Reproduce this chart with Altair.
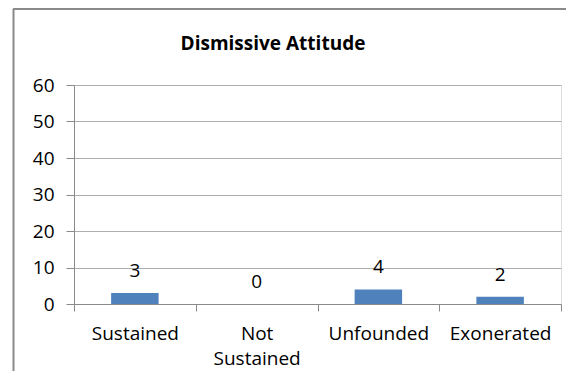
import altair as alt
import pandas as pd

categories = ["Sustained", "Not Sustained", "Unfounded", "Exonerated"]
counts = [3, 0, 4, 2]
y_ticks = [0, 10, 20, 30, 40, 50, 60]
title_text = "Dismissive Attitude"

df = pd.DataFrame({"category": categories, "count": counts})

FONT = "Open Sans"
BORDER = "#8a8a8a"

x_enc = alt.X(
    "category:N",
    sort=categories,
    scale=alt.Scale(paddingInner=0, paddingOuter=0),
    axis=alt.Axis(
        title=None,
        labelAngle=0,
        labelFont=FONT,
        labelFontSize=19,
        labelColor="#000000",
        labelPadding=13,
        labelLineHeight=25,
        labelExpr="datum.value == 'Not Sustained' ? ['Not', 'Sustained'] : datum.value",
        tickBand="extent",
        tickSize=7,
        tickColor=BORDER,
        domainColor=BORDER,
        grid=False,
    ),
)

y_enc = alt.Y(
    "count:Q",
    scale=alt.Scale(domain=[0, 60], nice=False),
    axis=alt.Axis(
        title=None,
        values=y_ticks,
        labelOverlap=False,
        labelFont=FONT,
        labelFontSize=19,
        labelColor="#000000",
        labelPadding=12,
        tickSize=8,
        tickColor=BORDER,
        domainColor=BORDER,
        gridColor="#aeaeae",
        grid=True,
    ),
)

bars = alt.Chart(df).mark_bar(color="#4F81BD", width=alt.RelativeBandSize(0.39)).encode(
    x=x_enc, y=y_enc
)

labels = alt.Chart(df).mark_text(
    font=FONT, fontSize=19, color="#000000", baseline="alphabetic", dy=-16
).encode(x=x_enc, y=y_enc, text="count:Q")

frame_top = alt.Chart(alt.Data(values=[{}])).mark_rule(
    color=BORDER, strokeWidth=2
).encode(x=alt.value(-61), x2=alt.value(500), y=alt.value(-76))

frame_left = alt.Chart(alt.Data(values=[{}])).mark_rule(
    color=BORDER, strokeWidth=2
).encode(x=alt.value(-60.5), y=alt.value(-76), y2=alt.value(295))

title = alt.Chart(alt.Data(values=[{"t": title_text}])).mark_text(
    font=FONT, fontSize=19, fontWeight="bold", color="#000000",
    align="center", baseline="alphabetic"
).encode(x=alt.value(199), y=alt.value(-35), text="t:N")

chart = (
    alt.layer(frame_top, frame_left, title, bars, labels)
    .properties(
        width=487,
        height=219,
        autosize=alt.AutoSizeParams(type="none"),
        padding={"left": 66, "top": 77, "right": 5, "bottom": 67},
    )
    .configure_view(stroke=None)
    .configure(background="white")
)

chart.save("out.html", embed_options={"renderer": "svg", "actions": False})
